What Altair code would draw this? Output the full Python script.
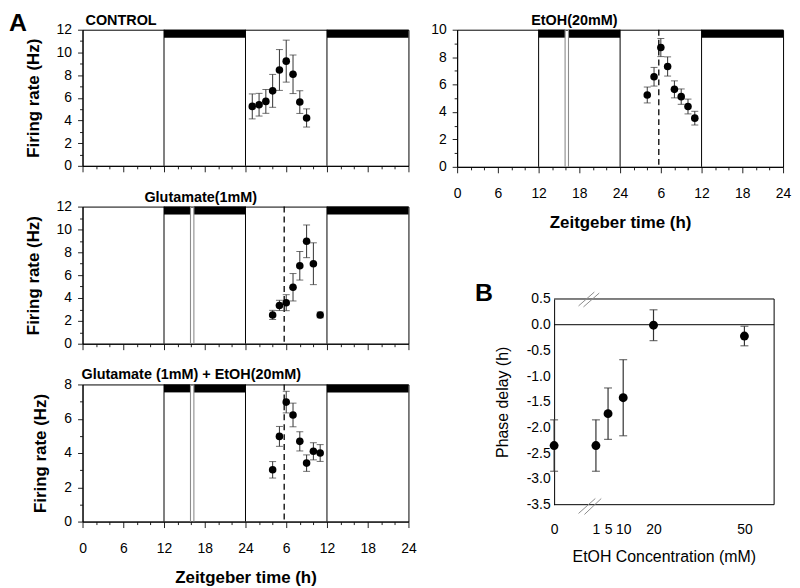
import altair as alt
import pandas as pd

FONT = "Liberation Sans"

# ---------------- Panel A data (x = hours of a 48 h double plot) ----------------
ctrl_time = [25, 26, 27, 28, 29, 30, 31, 32, 33]
ctrl_rate = [5.24, 5.39, 5.68, 6.61, 8.45, 9.23, 8.07, 5.62, 4.22]
ctrl_sem = [1.10, 1.00, 1.05, 1.45, 1.80, 1.85, 1.70, 1.00, 0.80]

etoh_time = [28, 29, 30, 31, 32, 33, 34, 35]
etoh_rate = [5.24, 6.57, 8.70, 7.32, 5.65, 5.12, 4.40, 3.55]
etoh_sem = [0.58, 0.68, 0.66, 0.70, 0.62, 0.56, 0.54, 0.50]

glu_time = [28, 29, 30, 31, 32, 33, 34, 35]
glu_rate = [2.52, 3.35, 3.59, 4.94, 6.82, 8.96, 7.00, 2.52]
glu_sem = [0.40, 0.45, 0.70, 1.20, 1.25, 1.43, 1.83, 0.25]

gle_time = [28, 29, 30, 31, 32, 33, 34, 35]
gle_rate = [3.02, 4.97, 6.97, 6.22, 4.68, 3.41, 4.10, 4.00]
gle_sem = [0.48, 0.58, 0.63, 0.69, 0.56, 0.48, 0.50, 0.49]

x_tick_values = list(range(0, 49, 2))
lights_edges = [12, 24, 36]
dark_start_plain = [12, 36]
dark_end_plain = [24, 48]
dark_start_drug = [12, 16.4, 36]
dark_end_drug = [15.9, 24, 48]
drug_marks = [15.9, 16.4]
peak_marker = [29.7]

# ---------------- Panel B data ----------------
conc = [0, 1, 5, 10, 20, 50]
phase = [-2.35, -2.35, -1.73, -1.42, -0.01, -0.22]
phase_sem = [0.50, 0.50, 0.50, 0.74, 0.30, 0.19]
phase_ticks = [0.5, 0.0, -0.5, -1.0, -1.5, -2.0, -2.5, -3.0, -3.5]

ZERO_POS = -12.8      # where the "0" concentration sits (axis break)
B_LEFT = -44.8
B_RIGHT = 59.8

brk_x = [-4.74, -3.11, -4.74, -2.79]
brk_x2 = [0.47, 2.10, 0.80, 2.76]
brk_y = [0.365, 0.346, -3.67, -3.69]
brk_y2 = [0.635, 0.616, -3.38, -3.38]

ERR = "#333333"


def label_layer(text, x, align, size=14.5, y=-5):
    return alt.Chart(pd.DataFrame({"s": [text]})).mark_text(
        fontSize=size, fontWeight="bold", align=align, baseline="alphabetic", font=FONT, color="black"
    ).encode(x=alt.value(x), y=alt.value(y), text="s")


def hour_panel(time, rate, sem, ymax, height, title, title_x, title_align, drug, xlabels,
               ytitle, letter=None):
    xs = alt.Scale(domain=[0, 48], nice=False, zero=False)
    ys = alt.Scale(domain=[0, ymax], nice=False)
    xaxis_kw = dict(
        values=x_tick_values,
        labels=xlabels,
        labelExpr="datum.value % 6 === 0 ? '' + (datum.value > 24 ? datum.value - 24 : datum.value) : ''",
        tickSize={"condition": {"test": "datum.value % 6 === 0", "value": 6}, "value": 3},
        labelFontSize=14, labelPadding=14, labelFlush=False, labelOverlap=False,
        titleFontSize=17, titleFontWeight="bold", titlePadding=14,
    )
    xaxis = alt.Axis(title="Zeitgeber time (h)" if xlabels else None, **xaxis_kw)
    yaxis_kw = dict(
        values=list(range(0, ymax + 1)),
        labelExpr="datum.value % 2 === 0 ? datum.label : ''",
        tickSize={"condition": {"test": "datum.value % 2 === 0", "value": 5}, "value": 3},
        labelFontSize=14, labelPadding=6, labelOverlap=False, labelFlush=False,
        titleFontSize=17, titleFontWeight="bold", titlePadding=14,
    )
    yaxis = alt.Axis(title=ytitle, **yaxis_kw) if ytitle else alt.Axis(title=None, **yaxis_kw)

    def X(f):
        return alt.X(f, type="quantitative", scale=xs, axis=xaxis)

    def Y(f):
        return alt.Y(f, type="quantitative", scale=ys, axis=yaxis)

    pts = pd.DataFrame({
        "t": time, "rate": rate,
        "lo": [r - e for r, e in zip(rate, sem)],
        "hi": [r + e for r, e in zip(rate, sem)],
    })
    starts = dark_start_drug if drug else dark_start_plain
    ends = dark_end_drug if drug else dark_end_plain
    dark = pd.DataFrame({"start": starts, "end": ends,
                         "bottom": [ymax * (1 - 8.0 / height)] * len(starts),
                         "top": [ymax] * len(starts)})

    layers = [
        alt.Chart(dark).mark_rect(color="black").encode(x=X("start"), x2="end", y=Y("bottom"), y2="top"),
        alt.Chart(pd.DataFrame({"t": lights_edges})).mark_rule(color="black", strokeWidth=1).encode(x=X("t")),
    ]
    if drug:
        layers.append(alt.Chart(pd.DataFrame({"t": drug_marks})).mark_rule(color="#8c8c8c", strokeWidth=1.1).encode(x=X("t")))
        layers.append(alt.Chart(pd.DataFrame({"t": peak_marker})).mark_rule(color="black", strokeWidth=1.3, strokeDash=[6, 4]).encode(x=X("t")))
    layers += [
        alt.Chart(pts).mark_rule(color=ERR, strokeWidth=1).encode(x=X("t"), y=Y("lo"), y2="hi"),
        alt.Chart(pts).mark_tick(color=ERR, orient="horizontal", size=7, thickness=1).encode(x=X("t"), y=Y("lo")),
        alt.Chart(pts).mark_tick(color=ERR, orient="horizontal", size=7, thickness=1).encode(x=X("t"), y=Y("hi")),
        alt.Chart(pts).mark_circle(size=58, color="black", opacity=1).encode(x=X("t"), y=Y("rate")),
        label_layer(title, title_x, title_align),
    ]
    if letter:
        layers.append(label_layer(letter, -74, "left", size=25, y=1))
    return alt.layer(*layers).properties(width=328, height=height)


ctrl = hour_panel(ctrl_time, ctrl_rate, ctrl_sem, 12, 137, "CONTROL", 3, "left", False, False,
                  "Firing rate (Hz)", letter="A")
glu = hour_panel(glu_time, glu_rate, glu_sem, 12, 138, "Glutamate(1mM)", 119, "center", True, False,
                 "Firing rate (Hz)")
gle = hour_panel(gle_time, gle_rate, gle_sem, 8, 138, "Glutamate (1mM) + EtOH(20mM)", -1, "left", True, True,
                 "Firing rate (Hz)")
etoh = hour_panel(etoh_time, etoh_rate, etoh_sem, 10, 138, "EtOH(20mM)", 118, "center", True, True, None)

# ---------------- Panel B ----------------
b_pos = [ZERO_POS if c == 0 else c for c in conc]
bdf = pd.DataFrame({
    "pos": b_pos, "phase": phase,
    "lo": [p - e for p, e in zip(phase, phase_sem)],
    "hi": [p + e for p, e in zip(phase, phase_sem)],
})
bxs = alt.Scale(domain=[B_LEFT, B_RIGHT], nice=False, zero=False)
bys = alt.Scale(domain=[-3.5, 0.5], nice=False, zero=False)
bxaxis = alt.Axis(values=b_pos, labelExpr="datum.value < 0 ? '0' : datum.label", domain=False, ticks=False,
                  labelPadding=18, labelFontSize=14, labelFlush=False, labelOverlap=False,
                  title="EtOH Concentration (mM)", titleFontSize=16, titleFontWeight="normal",
                  titlePadding=12, titleX=208)
byaxis = alt.Axis(values=phase_ticks, labelExpr="replace(format(datum.value, '.1f'), '\u2212', '-')",
                  offset=-97.6, ticks=False, labelPadding=4, labelFontSize=14, labelOverlap=False,
                  labelFlush=False, title="Phase delay (h)", titleFontSize=16, titleFontWeight="normal",
                  titlePadding=16)


def BX(f):
    return alt.X(f, type="quantitative", scale=bxs, axis=bxaxis)


def BY(f):
    return alt.Y(f, type="quantitative", scale=bys, axis=byaxis)


frame = pd.DataFrame({"x": [ZERO_POS, ZERO_POS, B_RIGHT, ZERO_POS],
                      "x2": [B_RIGHT, B_RIGHT, B_RIGHT, B_RIGHT],
                      "y": [0.5, -3.5, -3.5, 0.0],
                      "y2": [0.5, -3.5, 0.5, 0.0]})
brk = pd.DataFrame({"x": brk_x, "x2": brk_x2, "y": brk_y, "y2": brk_y2})

b_chart = alt.layer(
    alt.Chart(frame).mark_rule(color="black", strokeWidth=1).encode(x=BX("x"), x2="x2", y=BY("y"), y2="y2"),
    alt.Chart(brk).mark_rule(color="#8c8c8c", strokeWidth=1).encode(x=BX("x"), x2="x2", y=BY("y"), y2="y2"),
    alt.Chart(bdf).mark_rule(color=ERR, strokeWidth=1.2).encode(x=BX("pos"), y=BY("lo"), y2="hi"),
    alt.Chart(bdf).mark_tick(color=ERR, orient="horizontal", size=8, thickness=1.2).encode(x=BX("pos"), y=BY("lo")),
    alt.Chart(bdf).mark_tick(color=ERR, orient="horizontal", size=8, thickness=1.2).encode(x=BX("pos"), y=BY("hi")),
    alt.Chart(bdf).mark_circle(size=80, color="black", opacity=1).encode(x=BX("pos"), y=BY("phase")),
    label_layer("B", 18, "left", size=25, y=2),
).properties(width=319, height=207, view=alt.ViewBackground(strokeOpacity=0))

left = alt.vconcat(ctrl, glu, gle, spacing=41, bounds="flush")
right = alt.vconcat(etoh, b_chart, spacing=133, bounds="flush")

chart = alt.hconcat(left, right, spacing=12).properties(
    padding={"left": 0, "top": 0, "right": 0, "bottom": 0}
).configure_view(stroke="black", strokeWidth=1).configure_axis(
    domainColor="black", domainWidth=1, tickColor="#222222", labelColor="black",
    titleColor="black", labelFont=FONT, titleFont=FONT, grid=False,
).configure_text(font=FONT)

chart.save("out.html", embed_options={"renderer": "svg", "actions": False})
